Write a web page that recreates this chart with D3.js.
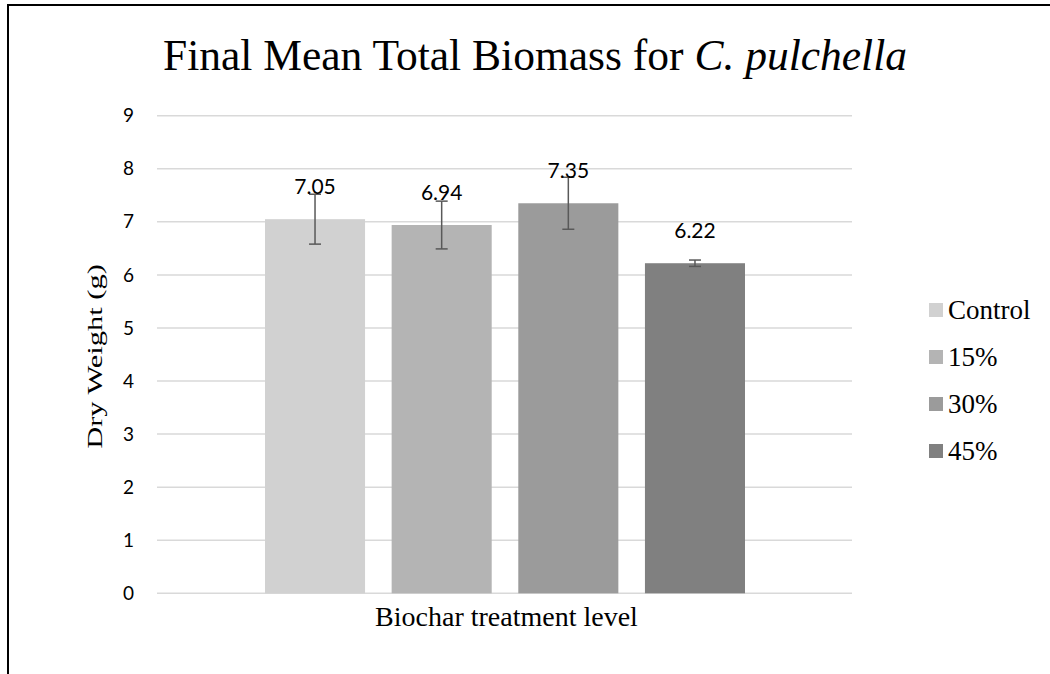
<!DOCTYPE html>
<html>
<head>
<meta charset="utf-8">
<script src="https://cdn.jsdelivr.net/npm/d3@7"></script>
<style>
  body { margin: 0; background: #fff; }
</style>
</head>
<body>
<div class="container"></div>
<script>
// chart data
const series = ['Control', '15%', '30%', '45%'];
const means = [7.05, 6.94, 7.35, 6.22];
const errors = [0.47, 0.45, 0.49, 0.06];
const colors = ['#d1d1d1', '#b4b4b4', '#9b9b9b', '#808080'];
const yTicks = [0, 1, 2, 3, 4, 5, 6, 7, 8, 9];

const width = 1050;
const height = 674;
const plotLeft = 157, plotRight = 852;
const plotTop = 115.7, plotBottom = 593.3;

const svg = d3.select('.container')
  .append('svg')
  .attr('width', width)
  .attr('height', height);

// border (only top + left visible in the reference)
svg.append('line').attr('x1', 8).attr('x2', width).attr('y1', 5).attr('y2', 5)
  .attr('stroke', '#000').attr('stroke-width', 2);
svg.append('line').attr('x1', 8).attr('x2', 8).attr('y1', 4).attr('y2', height)
  .attr('stroke', '#000').attr('stroke-width', 2);

const y = d3.scaleLinear().domain([0, 9]).range([plotBottom, plotTop]);
const x = d3.scaleBand().domain(series).range([265, 745]).paddingInner(0.21);

// gridlines
svg.append('g')
  .selectAll('line')
  .data(yTicks)
  .enter()
  .append('line')
  .attr('x1', plotLeft)
  .attr('x2', plotRight)
  .attr('y1', d => y(d))
  .attr('y2', d => y(d))
  .attr('stroke', '#d9d9d9')
  .attr('stroke-width', 1.5);

// y tick labels
svg.append('g')
  .selectAll('text')
  .data(yTicks)
  .enter()
  .append('text')
  .attr('x', 134)
  .attr('y', d => y(d))
  .attr('dy', '0.35em')
  .attr('text-anchor', 'end')
  .attr('font-family', 'Lato, "Open Sans", sans-serif')
  .attr('font-size', '19px')
  .attr('fill', '#000')
  .text(d => d);

const rows = series.map((s, i) => ({ name: s, value: means[i], err: errors[i], color: colors[i] }));

// bars
svg.append('g')
  .selectAll('rect')
  .data(rows)
  .enter()
  .append('rect')
  .attr('x', d => x(d.name))
  .attr('y', d => y(d.value))
  .attr('width', x.bandwidth())
  .attr('height', d => y(0) - y(d.value))
  .attr('fill', d => d.color);

// error bars
const eb = svg.append('g')
  .selectAll('g')
  .data(rows)
  .enter()
  .append('g')
  .attr('stroke', '#595959')
  .attr('stroke-width', 1.5);
eb.append('line')
  .attr('x1', d => x(d.name) + x.bandwidth() / 2)
  .attr('x2', d => x(d.name) + x.bandwidth() / 2)
  .attr('y1', d => y(d.value + d.err))
  .attr('y2', d => y(d.value - d.err));
eb.selectAll('.cap')
  .data(d => [d.value + d.err, d.value - d.err].map(v => ({ name: d.name, v })))
  .enter()
  .append('line')
  .attr('class', 'cap')
  .attr('x1', d => x(d.name) + x.bandwidth() / 2 - 6)
  .attr('x2', d => x(d.name) + x.bandwidth() / 2 + 6)
  .attr('y1', d => y(d.v))
  .attr('y2', d => y(d.v));

// value labels
svg.append('g')
  .selectAll('text')
  .data(rows)
  .enter()
  .append('text')
  .attr('x', d => x(d.name) + x.bandwidth() / 2)
  .attr('y', d => y(d.value) - 25)
  .attr('text-anchor', 'middle')
  .attr('font-family', 'Lato, "Open Sans", sans-serif')
  .attr('font-size', '21px')
  .attr('fill', '#000')
  .text(d => d.value.toFixed(2));

// title
const title = svg.append('text')
  .attr('x', 535)
  .attr('y', 70)
  .attr('text-anchor', 'middle')
  .attr('font-family', '"Liberation Serif", "Times New Roman", serif')
  .attr('font-size', '43.5px')
  .attr('fill', '#000');
title.append('tspan').text('Final Mean Total Biomass for ');
title.append('tspan').attr('font-style', 'italic').text('C. pulchella');

// axis titles (the y title is stretched along its length in the reference)
svg.append('text')
  .attr('transform', `translate(102, ${(plotTop + plotBottom) / 2 + 2}) rotate(-90) scale(1.45, 1)`)
  .attr('text-anchor', 'middle')
  .attr('font-family', '"Liberation Serif", "Times New Roman", serif')
  .attr('font-size', '21px')
  .attr('fill', '#000')
  .text('Dry Weight (g)');

svg.append('text')
  .attr('x', (plotLeft + plotRight) / 2 + 2)
  .attr('y', 626)
  .attr('text-anchor', 'middle')
  .attr('font-family', '"Liberation Serif", "Times New Roman", serif')
  .attr('font-size', '28px')
  .attr('fill', '#000')
  .text('Biochar treatment level');

// legend
const legend = svg.append('g')
  .selectAll('g')
  .data(rows)
  .enter()
  .append('g')
  .attr('transform', (d, i) => `translate(929, ${310 + i * 47})`);
legend.append('rect')
  .attr('x', 0)
  .attr('y', -7)
  .attr('width', 14)
  .attr('height', 14)
  .attr('fill', d => d.color);
legend.append('text')
  .attr('x', 19)
  .attr('y', 0)
  .attr('dy', '0.35em')
  .attr('font-family', '"Liberation Serif", "Times New Roman", serif')
  .attr('font-size', '27px')
  .attr('fill', '#000')
  .text(d => d.name);
</script>
</body>
</html>
